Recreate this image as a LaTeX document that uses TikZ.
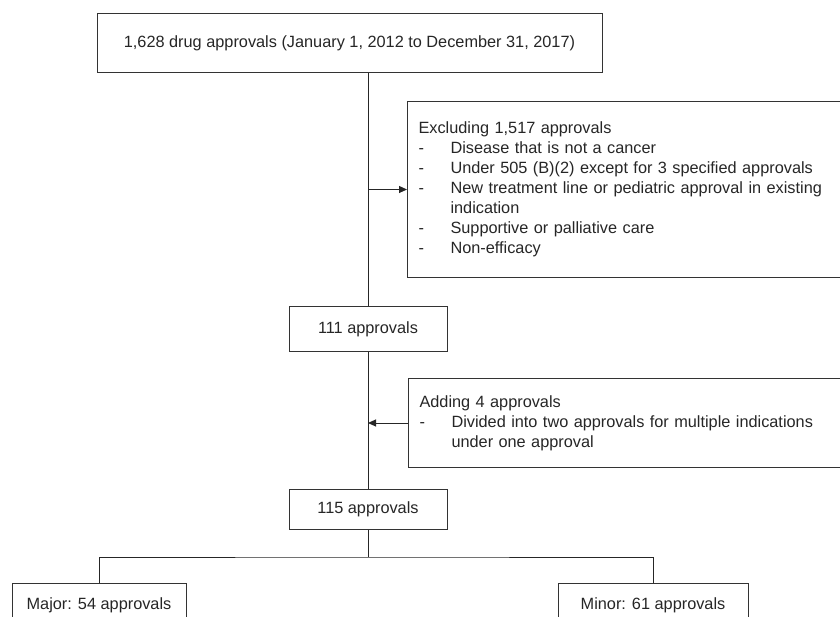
\documentclass[tikz,border=0pt]{standalone}
\usepackage{fontspec}
\setmainfont{Liberation Sans}
\usetikzlibrary{arrows.meta}
\begin{document}
\begin{tikzpicture}[x=1pt,y=-1pt,
  box/.style={draw=black!80, line width=1pt, rectangle, inner sep=0pt,
    font=\fontsize{16.3}{20}\selectfont, text=black!85},
  lbox/.style={box, anchor=north west, text width=418pt, inner xsep=11pt, align=left},
  conn/.style={draw=black!85, line width=1pt},
  arr/.style={conn, -{Triangle[length=8pt,width=7pt]}}]
\useasboundingbox (0,0) rectangle (840,617);
\clip (0,0) rectangle (840,617);
\node[box, minimum width=505pt, minimum height=59pt] (top) at (349.5,43.5)
  {1,628 drug approvals (January 1, 2012 to December 31, 2017)};
\node[lbox, minimum height=176pt] (excl) at (407,101)
  {Excluding 1,517 approvals\\
   \makebox[32pt][l]{-}Disease that is not a cancer\\
   \makebox[32pt][l]{-}Under 505 (B)(2) except for 3 specified approvals\\
   \makebox[32pt][l]{-}New treatment line or pediatric approval in existing\\
   \hspace*{32pt}indication\\
   \makebox[32pt][l]{-}Supportive or palliative care\\
   \makebox[32pt][l]{-}Non-efficacy};
\node[box, minimum width=158pt, minimum height=44pt] (n111) at (368,329) {111 approvals};
\node[lbox, minimum height=89pt] (add) at (408,378)
  {Adding 4 approvals\\
   \makebox[32pt][l]{-}Divided into two approvals for multiple indications\\
   \hspace*{32pt}under one approval};
\node[box, minimum width=158pt, minimum height=40pt] (n115) at (368,509.5) {115 approvals};
\coordinate (split) at (368,557);
\node[box, anchor=north, minimum width=174pt, minimum height=44pt] (major) at (99,583) {Major: 54 approvals};
\node[box, anchor=north, minimum width=190pt, minimum height=44pt] (minor) at (653,583) {Minor: 61 approvals};
\draw[conn] (n111.north |- top.south) -- (n111.north);
\draw[arr] (n111.north |- excl.west) -- (excl.west);
\draw[conn] (n111.south) -- (n115.north);
\draw[arr] (add.west) -- (add.west -| n111.south);
\draw[conn] (n115.south) -- (split);
\draw[conn] (major.north) |- (split) -| (minor.north);
\end{tikzpicture}
\end{document}
